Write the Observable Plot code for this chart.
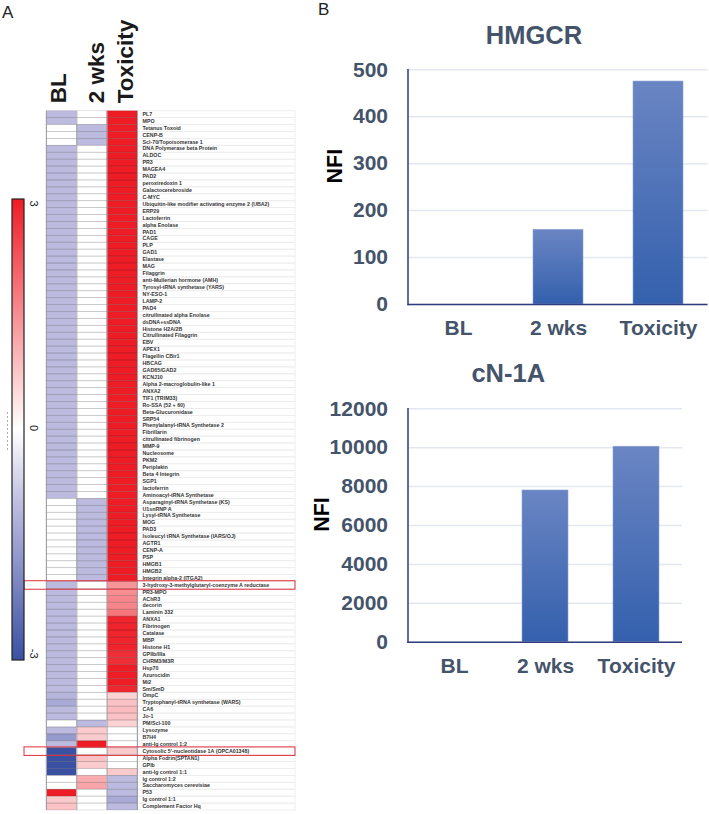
<!DOCTYPE html>
<html><head><meta charset="utf-8">
<script src="https://cdn.jsdelivr.net/npm/d3@7"></script>
<script src="https://cdn.jsdelivr.net/npm/@observablehq/plot@0.6"></script>
<style>
html,body{margin:0;padding:0;background:#fff}
#page{position:relative;width:709px;height:814px;overflow:hidden;font-family:"Liberation Sans",Arial,sans-serif}
#page>div{position:absolute}
#page svg{display:block;background:transparent;overflow:visible}
.letter{font-size:17px;color:#222;line-height:17px}
</style></head><body><div id="page"></div>
<script>
const antigens = ["PL7","MPO","Tetanus Toxoid","CENP-B","Scl-70/Topoisomerase 1","DNA Polymerase beta Protein","ALDOC","PR3","MAGEA4","PAD2",
"peroxiredoxin 1","Galactocerebroside","C-MYC","Ubiquitin-like modifier activating enzyme 2 (UBA2)","ERP29","Lactoferrin","alpha Enolase","PAD1","CAGE","PLP",
"GAD1","Elastase","MAG","Filaggrin","anti-Mullerian hormone (AMH)","Tyrosyl-tRNA synthetase (YARS)","NY-ESO-1","LAMP-2","PAD4","citrullinated alpha Enolase",
"dsDNA+ssDNA","Histone H2A/2B","Citrullinated Filaggrin","EBV","APEX1","Flagellin CBir1","HBCAG","GAD65/GAD2","KCNJ10","Alpha 2-macroglobulin-like 1",
"ANXA2","TIF1 (TRIM33)","Ro-SSA (52 + 60)","Beta-Glucuronidase","SRP54","Phenylalanyl-tRNA Synthetase 2","Fibrillarin","citrullinated fibrinogen","MMP-9","Nucleosome",
"PKM2","Periplakin","Beta 4 Integrin","SGP1","lactoferrin","Aminoacyl-tRNA Synthetase","Asparaginyl-tRNA Synthetase (KS)","U1snRNP A","Lysyl-tRNA Synthetase","MOG",
"PAD3","Isoleucyl tRNA Synthetase (IARS/OJ)","AGTR1","CENP-A","PSP","HMGB1","HMGB2","Integrin alpha-2 (ITGA2)","3-hydroxy-3-methylglutaryl-coenzyme A reductase","PR3-MPO",
"AChR3","decorin","Laminin 332","ANXA1","Fibrinogen","Catalase","MBP","Histone H1","GPIIb/IIIa","CHRM3/M3R",
"Hsp70","Azurocidin","Mi2","Sm/SmD","OmpC","Tryptophanyl-tRNA synthetase (WARS)","CA6","Jo-1","PM/Scl-100","Lysozyme",
"B7H4","anti-Ig control 1:2","Cytosolic 5'-nucleotidase 1A (OPCA01348)","Alpha Fodrin(SPTAN1)","GPIb","anti-Ig control 1:1","Ig control 1:2","Saccharomyces cerevisiae","P53","Ig control 1:1",
"Complement Factor Hq"];
const blValues = [-1,-1,0,0,0,-1,-1,-1,-1,-1,
-1,-1,-1,-1,-1,-1,-1,-1,-1,-1,
-1,-1,-1,-1,-1,-1,-1,-1,-1,-1,
-1,-1,-1,-1,-1,-1,-1,-1,-1,-1,
-1,-1,-1,-1,-1,-1,-1,-1,-1,-1,
-1,-1,-1,-1,-1,-1,0,0,0,0,
0,0,0,0,0,0,0,0,-1,-1,
-1,-1,-1,-1,-1,-1,-1,-1,-1,-1,
-1,-1,-1,-1,-1.1,-1.3,-1,-1,0,-1,
-1.6,-1,-3,-3,-3,-3,0,0,3,0.7,
0.8];
const wk2Values = [0,0,-1,-1,-1,0,0,0,0,0,
0,0,0,0,0,0,0,0,0,0,
0,0,0,0,0,0,0,0,0,0,
0,0,0,0,0,0,0,0,0,0,
0,0,0,0,0,0,0,0,0,0,
0,0,0,0,0,0,-1,-1,-1,-1,
-1,-1,-1,-1,-1,-1,-1,-1,0,0,
0,0,0,0,0,0,0,0,0,0,
0,0,0,0,0,0,0,0,-1,0.7,
0.7,3,0,0.8,0.7,0,1.1,1.2,0,0,
0];
const toxValues = [3,3,3,3,3,3,3,3,3,3,
3,3,3,3,3,3,3,3,3,3,
3,3,3,3,3,3,3,3,3,3,
3,3,3,3,3,3,3,3,3,3,
3,3,3,3,3,3,3,3,3,3,
3,3,3,3,3,3,3,3,3,3,
3,3,3,3,3,3,3,3,1.4,1.5,
1.6,1.6,1.8,2.9,2.9,2.9,2.9,2.9,2.75,2.75,
3,3,3,2.85,0.6,0.8,0.9,0.8,0.6,0,
0,0,0.7,0,0,0.7,-1,-1,-1,-1.3,
-1];
const heatColumns = ["BL","2 wks","Toxicity"];
const heatSeries = [blValues, wk2Values, toxValues];
const headerAt = [0.41,1.65,2.62];
const highlighted = ["3-hydroxy-3-methylglutaryl-coenzyme A reductase","Cytosolic 5'-nucleotidase 1A (OPCA01348)"];
const colorDomain = [-3,-1,0,3];
const colorRange = ["#3a50a2","#bcbbdf","#ffffff","#ee1c25"];
const barGroups = ["BL","2 wks","Toxicity"];
const hmgcrValues = [0,159,475];
const cn1aValues = [0,7800,10050];
const hmgcrTicks = [0,100,200,300,400,500];
const cn1aTicks = [0,2000,4000,6000,8000,10000,12000];
const slate = "#44546a";
const font = '"Liberation Sans",Arial,sans-serif';

const page = document.getElementById("page");
function place(node,left,top){const d=document.createElement("div");d.style.left=left+"px";d.style.top=top+"px";d.append(node);page.append(d);return d;}
function letter(t,left,top){const s=document.createElement("span");s.className="letter";s.textContent=t;place(s,left,top);}
function gradientDefs(id,stops,x2,y2){
  return ()=>{const defs=d3.create("svg:defs");
    const g=defs.append("linearGradient").attr("id",id).attr("x1",0).attr("y1",0).attr("x2",x2).attr("y2",y2);
    stops.forEach(([o,c])=>g.append("stop").attr("offset",o).attr("stop-color",c));
    return defs.node();};
}

/* Heatmap */
const cells = heatSeries.flatMap((vals,c)=>vals.map((v,i)=>({label:antigens[i],col:c,v})));
const heat = Plot.plot({
  width:295,height:814,marginLeft:24,marginRight:0,marginTop:110.7,marginBottom:4,
  style:{fontFamily:font},
  x:{domain:[-0.725,8.21],axis:null},
  y:{domain:antigens,padding:0,axis:null},
  color:{type:"linear",domain:colorDomain,range:colorRange},
  marks:[
    Plot.barX(antigens,{y:d=>d,x1:()=>3,x2:()=>8.21,fill:"none",stroke:"#ececec",strokeWidth:0.8}),
    Plot.barX(cells,{y:"label",x1:"col",x2:d=>d.col+1,fill:"v"}),
    Plot.barX(antigens,{y:d=>d,x1:()=>0,x2:()=>3,fill:"none",stroke:"#000",strokeOpacity:0.14,strokeWidth:0.8}),
    Plot.ruleX([0,1,2,3],{stroke:"#a0a0a8",strokeWidth:1}),
    Plot.text(antigens,{y:d=>d,x:()=>3,dx:5,dy:-0.5,text:d=>d,textAnchor:"start",fontSize:5.3,fontWeight:"bold",fill:"#333"}),
    Plot.barX(highlighted,{y:d=>d,x1:()=>-0.725,x2:()=>8.21,fill:"none",stroke:"#e2303a",strokeWidth:1,insetTop:-0.8,insetBottom:-0.8}),
    Plot.text(heatColumns,{x:d=>headerAt[heatColumns.indexOf(d)],frameAnchor:"top",dy:-8,rotate:-90,textAnchor:"start",lineAnchor:"middle",text:d=>d,fontSize:22.5,fontWeight:"bold",fill:"#1a1a1a"})
  ]
});
place(heat,0,0);

/* Colour legend */
const legendStops = colorDomain.map((d,i)=>[(3-d)/6,colorRange[i]]).reverse();
const legendText = {fill:"#222",fontSize:11,frameAnchor:"right",dx:9,rotate:90,text:d=>String(d)};
const legend = Plot.plot({
  width:50,height:480,marginLeft:12,marginRight:26,marginTop:9,marginBottom:10,
  style:{fontFamily:font},
  x:{domain:[0,1],axis:null},
  y:{domain:[-3,3],axis:null},
  marks:[
    gradientDefs("ramp",legendStops,0,1),
    Plot.rectY([0],{y1:()=>-3,y2:()=>3,fill:"url(#ramp)",stroke:"#222",strokeWidth:1.2}),
    Plot.text([3],{...legendText,y:d=>d,textAnchor:"start",dy:1}),
    Plot.text([0],{...legendText,y:d=>d,textAnchor:"middle",dy:-2}),
    Plot.text([-3],{...legendText,y:d=>d,textAnchor:"end",dy:-2}),
    Plot.ruleX([-0.42],{y1:()=>-0.26,y2:()=>0.26,stroke:"#555",strokeWidth:1,strokeDasharray:"1 3"})
  ]
});
place(legend,0,190);

/* Bar charts */
function barChart({title,values,ticks,ymax,width,height,ml,mr,mt,mb,titleDx,titleDy,nfiDx,nfiDy,id}){
  const rows = barGroups.map((g,i)=>({group:g,nfi:values[i]}));
  return Plot.plot({
    width,height,marginLeft:ml,marginRight:mr,marginTop:mt,marginBottom:mb,
    style:{fontFamily:font},
    x:{domain:barGroups,paddingInner:0.5,paddingOuter:0.25,label:null,axis:null},
    y:{domain:[0,ymax],label:null,axis:null},
    marks:[
      gradientDefs(id,[[0,"#6a85c3"],[1,"#3460ad"]],0,1),
      Plot.gridY(ticks,{stroke:"#e3e7f0",strokeOpacity:1,strokeWidth:1.5}),
      Plot.barY(rows,{x:"group",y:"nfi",fill:`url(#${id})`,stroke:"#8aa2d4",strokeWidth:0.6}),
      Plot.frame({anchor:"left",stroke:"#2f3b7c",strokeWidth:1.5}),
      Plot.ruleY([0],{stroke:"#2f3b7c",strokeWidth:1.5}),
      Plot.axisY({ticks,tickSize:0,tickPadding:20,fontSize:21,fontWeight:"bold",fill:slate,tickFormat:d=>String(d),label:null}),
      Plot.axisX({tickSize:0,tickPadding:16,fontSize:21,fontWeight:"bold",fill:slate,label:null}),
      Plot.text([title],{frameAnchor:"top",dx:titleDx,dy:titleDy,lineAnchor:"bottom",fontSize:25.5,fontWeight:"bold",fill:slate}),
      Plot.text(["NFI"],{frameAnchor:"left",dx:nfiDx,dy:nfiDy,rotate:-90,textAnchor:"middle",fontSize:21.5,fontWeight:"bold",fill:"#000"})
    ]
  });
}
place(barChart({title:"HMGCR",values:hmgcrValues,ticks:hmgcrTicks,ymax:500,width:399,height:340,ml:97.5,mr:1.5,mt:69.3,mb:36,titleDx:-24,titleDy:-26,nfiDx:-73,nfiDy:-21,id:"g1"}),310,0);
place(barChart({title:"cN-1A",values:cn1aValues,ticks:cn1aTicks,ymax:12000,width:399,height:340,ml:97.5,mr:27,mt:68.3,mb:38.3,titleDx:-37,titleDy:-27,nfiDx:-86,nfiDy:-11,id:"g2"}),310,340);

letter("A",2,4);
letter("B",318,1);
</script></body></html>
